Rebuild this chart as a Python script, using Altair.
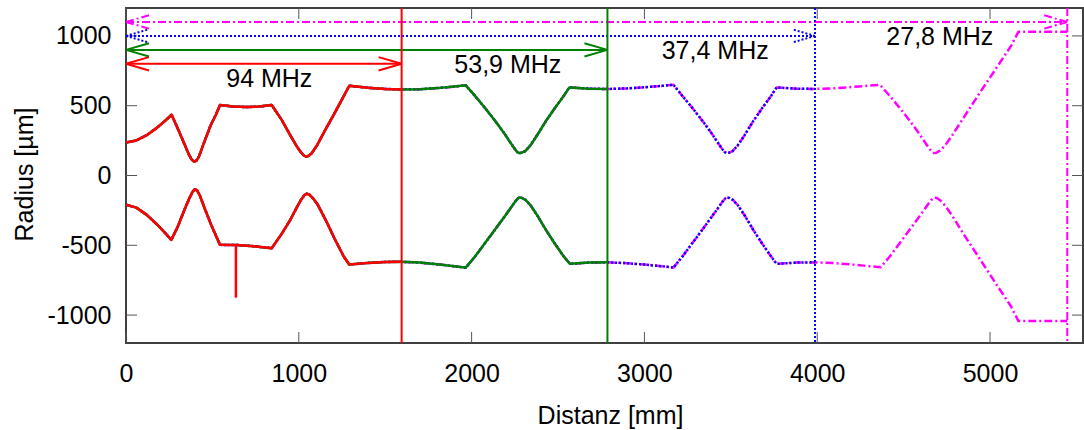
import altair as alt
import pandas as pd

# ---- data ----
upper_x = [0, 60, 120, 180, 230, 264, 300, 340, 362, 378, 393, 407, 422, 450, 490, 520, 544,
           620, 698, 770, 843, 900, 950, 985, 1010, 1028, 1040, 1055, 1075, 1105, 1150, 1200, 1250, 1292,
           1400, 1500, 1595, 1700, 1800, 1900, 1966, 2020, 2080, 2140, 2190, 2225, 2250, 2265, 2275,
           2290, 2310, 2340, 2380, 2430, 2480, 2530, 2566, 2680, 2786, 2900, 3000, 3100, 3168,
           3220, 3280, 3340, 3390, 3425, 3450, 3465, 3475, 3490, 3510, 3540, 3580, 3630, 3680, 3730, 3765,
           3880, 3987, 4100, 4200, 4300, 4363, 4420, 4480, 4540, 4590, 4625, 4650, 4665, 4675, 4690,
           4710, 4740, 4780, 4850, 4950, 5050, 5120, 5164, 5447]
upper_y = [237, 251, 289, 343, 396, 435, 335, 220, 155, 118, 100, 106, 135, 230, 360, 435, 505,
           494, 490, 494, 505, 400, 290, 215, 170, 145, 136, 140, 160, 215, 320, 430, 545, 643,
           628, 620, 617, 618, 626, 637, 646, 570, 480, 385, 300, 235, 190, 167, 161,
           163, 175, 215, 290, 390, 480, 565, 631, 622, 620, 624, 632, 642, 650,
           570, 480, 385, 300, 235, 190, 167, 161, 163, 175, 215, 290, 390, 480, 565, 631,
           622, 620, 625, 634, 644, 650, 570, 480, 385, 300, 235, 190, 167, 161, 163,
           178, 215, 285, 420, 610, 795, 925, 1029, 1029]

lower_x = [0, 60, 120, 180, 230, 262, 300, 340, 368, 386, 399, 412, 428, 455, 490, 520, 544,
           640, 740, 843, 900, 950, 990, 1015, 1033, 1045, 1060, 1080, 1110, 1160, 1210, 1260, 1292,
           1400, 1500, 1595, 1700, 1800, 1900, 1966, 2020, 2080, 2140, 2190, 2228, 2252, 2267, 2277,
           2292, 2312, 2342, 2382, 2430, 2480, 2530, 2569, 2680, 2786, 2900, 3000, 3100, 3168,
           3220, 3280, 3340, 3390, 3428, 3452, 3467, 3477, 3492, 3512, 3542, 3582, 3630, 3680, 3730, 3765,
           3880, 3987, 4100, 4200, 4300, 4367, 4420, 4480, 4540, 4590, 4628, 4652, 4667, 4677, 4692,
           4712, 4742, 4782, 4850, 4950, 5050, 5120, 5164, 5447]
lower_y = [-210, -230, -282, -351, -417, -461, -365, -240, -160, -115, -98, -108, -145, -235, -345, -430, -497,
           -498, -507, -521, -420, -320, -225, -170, -140, -131, -136, -160, -210, -330, -460, -580, -638,
           -626, -619, -618, -624, -636, -650, -660, -580, -480, -380, -295, -230, -187, -165, -158,
           -161, -175, -215, -290, -390, -485, -575, -633, -624, -622, -628, -638, -650, -660,
           -580, -480, -380, -295, -230, -187, -165, -158, -161, -175, -215, -290, -390, -485, -575, -633,
           -624, -622, -628, -638, -650, -657, -580, -480, -380, -295, -230, -187, -165, -158, -161,
           -178, -218, -290, -425, -615, -805, -935, -1042, -1042]

spike_x = [636]
spike_y_top = [-498]
spike_y_bottom = [-875]

series_names = ["94 MHz", "53,9 MHz", "37,4 MHz", "27,8 MHz"]
series_end = [1595, 2786, 3987, 5447]
arrow_y = [800, 900, 1000, 1100]
label_x = [580, 1900, 3100, 4400]
label_y = [690, 792, 894, 993]
series_colors = ["#ff0000", "#008000", "#0000ff", "#ff00ff"]
series_dash = [None, None, [2, 2], [8, 3, 2, 3]]

xtick_vals = [0, 1000, 2000, 3000, 4000, 5000]
ytick_vals = [-1000, -500, 0, 500, 1000]

# ---- chart ----
W, H = 957, 335
FONT = "Liberation Sans"
FS = 25

X = alt.Scale(domain=[0, 5538], nice=False, zero=False)
Y = alt.Scale(domain=[-1200, 1200], nice=False, zero=False)

xaxis = alt.Axis(values=xtick_vals, title="Distanz [mm]", ticks=False, tickSize=0, domain=False,
                 grid=False, labelFontSize=FS, labelFont=FONT, labelColor="black", labelPadding=18,
                 labelFlush=False, labelExpr="datum.value + ''",
                 titleFontSize=FS, titleFont=FONT, titleFontWeight="normal",
                 titleColor="black", titleBaseline="alphabetic", titleY=80, titleX=484)
yaxis = alt.Axis(values=ytick_vals, title="Radius [µm]", ticks=False, tickSize=0, domain=False,
                 grid=False, labelFontSize=FS, labelFont=FONT, labelColor="black", labelPadding=15,
                 labelExpr="datum.value + ''",
                 titleFontSize=FS, titleFont=FONT, titleFontWeight="normal", titleColor="black",
                 titleBaseline="alphabetic", titleX=-94, titleY=166, titleAngle=270, titleAlign="center")


def xenc(f):
    return alt.X(f, type="quantitative", scale=X, axis=xaxis)


def yenc(f):
    return alt.Y(f, type="quantitative", scale=Y, axis=yaxis)


layers = []

# inside tick marks (gnuplot style, mirrored)
xt = pd.DataFrame({"v": xtick_vals})
yt = pd.DataFrame({"v": ytick_vals})
tick_style = dict(color="#555555", strokeWidth=1)
layers.append(alt.Chart(xt).mark_rule(**tick_style).encode(x=xenc("v"), y=alt.value(H), y2=alt.value(H - 11)))
layers.append(alt.Chart(xt).mark_rule(**tick_style).encode(x=xenc("v"), y=alt.value(0), y2=alt.value(11)))
layers.append(alt.Chart(yt).mark_rule(**tick_style).encode(y=yenc("v"), x=alt.value(0), x2=alt.value(11)))
layers.append(alt.Chart(yt).mark_rule(**tick_style).encode(y=yenc("v"), x=alt.value(W - 11), x2=alt.value(W)))

# curves: drawn from the last series (bottom) to the first (top)
order = [3, 2, 1, 0]
for k in order:
    end = series_end[k]
    rows = []
    for xv, yv in zip(upper_x, upper_y):
        if xv <= end:
            rows.append({"x": xv, "y": yv, "b": "upper"})
    for xv, yv in zip(lower_x, lower_y):
        if xv <= end:
            rows.append({"x": xv, "y": yv, "b": "lower"})
    df = pd.DataFrame(rows)
    mk = dict(color=series_colors[k], strokeWidth=2.5, clip=True, strokeJoin="round")
    if series_dash[k]:
        mk["strokeDash"] = series_dash[k]
    layers.append(alt.Chart(df).mark_line(**mk).encode(
        x=xenc("x"), y=yenc("y"), detail="b:N", order="x:Q"))

# spike on the red curve
spike_df = pd.DataFrame({"x": spike_x, "y": spike_y_top, "y2": spike_y_bottom})
layers.append(alt.Chart(spike_df).mark_rule(color=series_colors[0], strokeWidth=2.5).encode(
    x=xenc("x"), y=yenc("y"), y2="y2"))

# vertical markers, arrows, labels
for k in order:
    mk = dict(color=series_colors[k], strokeWidth=2)
    if series_dash[k]:
        mk["strokeDash"] = series_dash[k]
    vdf = pd.DataFrame({"x": [series_end[k]]})
    layers.append(alt.Chart(vdf).mark_rule(**mk).encode(x=xenc("x")))
    adf = pd.DataFrame({"x": [0], "x2": [series_end[k]], "y": [arrow_y[k]]})
    layers.append(alt.Chart(adf).mark_rule(**mk).encode(x=xenc("x"), x2="x2", y=yenc("y")))
    pk = dict(mk)
    pk.update(filled=False, opacity=1, size=529)
    rdf = pd.DataFrame({"x": [series_end[k]], "y": [arrow_y[k]]})
    ldf = pd.DataFrame({"x": [0], "y": [arrow_y[k]]})
    layers.append(alt.Chart(rdf).mark_point(shape="M0,0L-2,-0.58M0,0L-2,0.58", **pk).encode(
        x=xenc("x"), y=yenc("y")))
    layers.append(alt.Chart(ldf).mark_point(shape="M0,0L2,-0.58M0,0L2,0.58", **pk).encode(
        x=xenc("x"), y=yenc("y")))

lab = pd.DataFrame({"x": label_x, "y": label_y, "t": series_names})
layers.append(alt.Chart(lab).mark_text(align="left", baseline="middle", fontSize=FS, font=FONT,
                                       color="black").encode(x=xenc("x"), y=yenc("y"), text="t:N"))

chart = alt.layer(*layers).properties(
    width=W, height=H, autosize="none",
    padding={"left": 126, "top": 8, "right": 1, "bottom": 87},
).configure_view(stroke="#404040", strokeWidth=2)

chart.save("out.html", embed_options={"renderer": "svg", "actions": False})
